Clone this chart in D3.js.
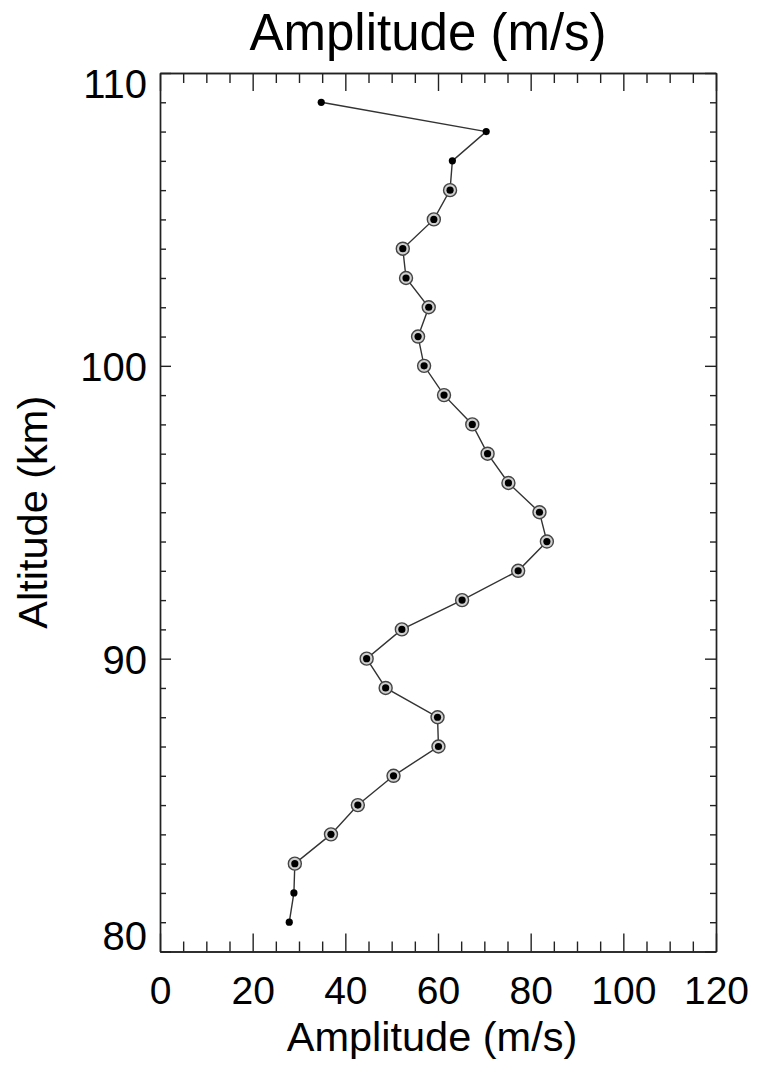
<!DOCTYPE html>
<html>
<head>
<meta charset="utf-8">
<script src="https://cdn.jsdelivr.net/npm/d3@7"></script>
<style>
  body { margin: 0; background: #fff; }
  svg { display: block; }
  text { font-family: "Liberation Sans", Arial, Helvetica, sans-serif; fill: #000; }
  .axis path, .axis line { stroke: #222; stroke-width: 1.4; }
</style>
</head>
<body>
<svg width="758" height="1066"></svg>
<script>
// altitude levels (km) and the wind amplitude read at each one (m/s)
var altitudes = [81, 82, 83, 84, 85, 86, 87, 88, 89, 90, 91, 92, 93, 94, 95,
                 96, 97, 98, 99, 100, 101, 102, 103, 104, 105, 106, 107, 108, 109];
var amplitudes = [27.9, 28.9, 29.1, 36.9, 42.7, 50.4, 60.1, 59.9, 48.7, 44.6, 52.2, 65.2, 77.3, 83.5, 81.9,
                  75.2, 70.7, 67.4, 61.3, 57.0, 55.7, 58.0, 53.1, 52.4, 59.1, 62.6, 63.1, 70.4, 34.8];
// levels drawn with the grey ring around the dot
var ringed = [83, 84, 85, 86, 87, 88, 89, 90, 91, 92, 93, 94, 95, 96, 97,
              98, 99, 100, 101, 102, 103, 104, 105, 106];

var xTicks = [0, 20, 40, 60, 80, 100, 120];
var yTicks = [80, 90, 100, 110];
var xDomain = [0, 120];
var yDomain = [80, 110];

var svg = d3.select('svg');

var plot = {l: 160, r: 716, t: 73, b: 951.5};

var xScale = d3.scaleLinear().domain(xDomain).range([plot.l, plot.r]);
var yScale = d3.scaleLinear().domain(yDomain).range([plot.b, plot.t]);

var xMinor = d3.range(xDomain[0], xDomain[1] + 1, 5).filter(function(v) { return xTicks.indexOf(v) < 0; });
var yMinor = d3.range(yDomain[0], yDomain[1] + 1, 1).filter(function(v) { return yTicks.indexOf(v) < 0; });

// bottom axis, ticks point inward
svg.append('g')
    .attr('class', 'axis')
    .attr('transform', 'translate(0,' + plot.b + ')')
    .call(d3.axisBottom(xScale).tickValues(xTicks).tickSizeInner(-18).tickSizeOuter(0).tickPadding(25))
    .call(function(g) {
        g.selectAll('text').attr('font-size', 39).attr('font-family', null).attr('fill', '#000');
    });
svg.append('g')
    .attr('class', 'axis')
    .attr('transform', 'translate(0,' + plot.b + ')')
    .call(d3.axisBottom(xScale).tickValues(xMinor).tickSizeInner(-10).tickSizeOuter(0).tickFormat(''));

// top axis
svg.append('g')
    .attr('class', 'axis')
    .attr('transform', 'translate(0,' + plot.t + ')')
    .call(d3.axisTop(xScale).tickValues(xTicks).tickSizeInner(-18).tickSizeOuter(0).tickFormat(''));
svg.append('g')
    .attr('class', 'axis')
    .attr('transform', 'translate(0,' + plot.t + ')')
    .call(d3.axisTop(xScale).tickValues(xMinor).tickSizeInner(-10).tickSizeOuter(0).tickFormat(''));

// left axis
svg.append('g')
    .attr('class', 'axis')
    .attr('transform', 'translate(' + plot.l + ',0)')
    .call(d3.axisLeft(yScale).tickValues(yTicks).tickSizeInner(-11).tickSizeOuter(0).tickPadding(13))
    .call(function(g) {
        g.selectAll('text')
            .attr('font-size', 40)
            .attr('font-family', null)
            .attr('fill', '#000')
            .attr('dy', function(d) {
                // end labels kept inside the axis span
                if (d === yDomain[0]) return '-0.05em';
                if (d === yDomain[1]) return '0.62em';
                return '0.36em';
            });
    });
svg.append('g')
    .attr('class', 'axis')
    .attr('transform', 'translate(' + plot.l + ',0)')
    .call(d3.axisLeft(yScale).tickValues(yMinor).tickSizeInner(-6).tickSizeOuter(0).tickFormat(''));

// right axis
svg.append('g')
    .attr('class', 'axis')
    .attr('transform', 'translate(' + plot.r + ',0)')
    .call(d3.axisRight(yScale).tickValues(yTicks).tickSizeInner(-11).tickSizeOuter(0).tickFormat(''));
svg.append('g')
    .attr('class', 'axis')
    .attr('transform', 'translate(' + plot.r + ',0)')
    .call(d3.axisRight(yScale).tickValues(yMinor).tickSizeInner(-6).tickSizeOuter(0).tickFormat(''));

var points = altitudes.map(function(a, i) {
    return {alt: a, amp: amplitudes[i], ring: ringed.indexOf(a) >= 0};
});

var line = d3.line()
    .x(function(d) { return xScale(d.amp); })
    .y(function(d) { return yScale(d.alt); });

svg.append('path')
    .datum(points)
    .attr('d', line)
    .attr('fill', 'none')
    .attr('stroke', '#333')
    .attr('stroke-width', 1.4);

svg.selectAll('.ring')
    .data(points.filter(function(d) { return d.ring; }))
    .enter()
    .append('circle')
    .attr('class', 'ring')
    .attr('cx', function(d) { return xScale(d.amp); })
    .attr('cy', function(d) { return yScale(d.alt); })
    .attr('r', 6.5)
    .attr('fill', '#cfcfcf')
    .attr('stroke', '#444')
    .attr('stroke-width', 1.4);

svg.selectAll('.dot')
    .data(points)
    .enter()
    .append('circle')
    .attr('class', 'dot')
    .attr('cx', function(d) { return xScale(d.amp); })
    .attr('cy', function(d) { return yScale(d.alt); })
    .attr('r', 3.6)
    .attr('fill', '#000');

// titles
svg.append('text')
    .attr('x', 428)
    .attr('y', 50)
    .attr('text-anchor', 'middle')
    .attr('font-size', 51)
    .text('Amplitude (m/s)');

svg.append('text')
    .attr('x', 432)
    .attr('y', 1051)
    .attr('text-anchor', 'middle')
    .attr('font-size', 41.5)
    .text('Amplitude (m/s)');

svg.append('text')
    .attr('transform', 'translate(' + [47, (plot.t + plot.b) / 2] + ') rotate(-90)')
    .attr('text-anchor', 'middle')
    .attr('font-size', 41.5)
    .text('Altitude (km)');
</script>
</body>
</html>
